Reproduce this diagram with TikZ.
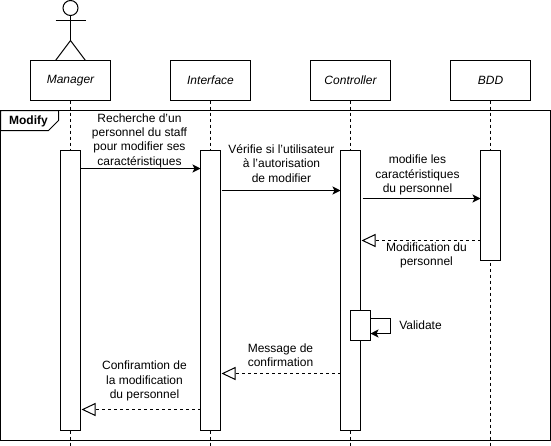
\documentclass[tikz,border=0pt]{standalone}
\usepackage{fontspec}
\setmainfont{Liberation Sans}
\usetikzlibrary{arrows.meta}
\tikzstyle{head}=[shape=rectangle,
	       draw=black,
	       fill=white,
	       outer sep=0pt,
	       minimum width=80pt,
	       minimum height=40pt,
	       font=\fontsize{12}{14.4}\selectfont\itshape]
\tikzstyle{act}=[shape=rectangle,
	       draw=black,
	       fill=white,
	       anchor=north,
	       inner sep=0pt,
	       outer sep=0pt,
	       minimum width=20pt]
\tikzstyle{txt}=[align=center,inner sep=0pt,font=\fontsize{12}{14.4}\selectfont]
\tikzstyle{life}=[draw=black,dash pattern=on 3pt off 3pt]
\tikzstyle{msg}=[-{Stealth[length=8pt,width=8pt,inset=2pt]}]
\tikzstyle{ret}=[dash pattern=on 3pt off 3pt,-{Triangle[open,length=14pt,width=13pt,fill=white]}]

\begin{document}
\begin{tikzpicture}[x=1pt,y=-1pt,shift={(0.5,0.5)},line width=1pt]
\useasboundingbox (-0.5,-0.5) rectangle (550.5,444.5);

% frame round the whole exchange
\node[draw=black,minimum width=550pt,minimum height=330pt,anchor=north west,inner sep=0pt,outer sep=0pt] (frame) at (0,110) {};
\coordinate (tabr) at (58,110);
\coordinate (tabc) at (58,120);
\coordinate (tabb) at (48,130);
\coordinate (tabl) at (0,130);
\draw[fill=white] (frame.north west) -- (tabr) -- (tabc) -- (tabb) -- (tabl) -- cycle;
\node[txt,font=\fontsize{12}{14.4}\selectfont\bfseries] (modify) at (28,120.5) {Modify};

% actor above the first box
\node[draw=black,circle,minimum size=15pt,inner sep=0pt,outer sep=0pt] (skull) at (70,7.5) {};
\coordinate (arml) at (55,20);
\coordinate (armr) at (85,20);
\coordinate (hip) at (70,40);
\coordinate (legl) at (55,60);
\coordinate (legr) at (85,60);
\draw (arml) -- (armr);
\draw (skull) -- (hip);
\draw (legl) -- (hip) -- (legr);

% boxes on top of each lifeline
\node[head] (manager) at (70,80) {Manager};
\node[head] (interface) at (210,80) {Interface};
\node[head] (controller) at (350,80) {Controller};
\node[head] (bdd) at (490,80) {BDD};

% bottom ends of the lifelines
\coordinate (endm) at (70,445);
\coordinate (endi) at (210,445);
\coordinate (endc) at (350,445);
\coordinate (endb) at (490,445);
\draw[life] (manager) -- (endm);
\draw[life] (interface) -- (endi);
\draw[life] (controller) -- (endc);
\draw[life] (bdd) -- (endb);

% activation bars
\node[act,minimum height=280pt] (actm) at (70,150) {};
\node[act,minimum height=280pt] (acti) at (210,150) {};
\node[act,minimum height=280pt] (actc) at (350,150) {};
\node[act,minimum height=110pt] (actb) at (490,150) {};
\node[act,minimum height=30pt] (valid) at (360,310) {};

% end points of the messages
\coordinate (m1a) at (80,168);
\coordinate (m1b) at (200,168);
\coordinate (m2a) at (221,190);
\coordinate (m2b) at (340,190);
\coordinate (m3a) at (362,198);
\coordinate (m3b) at (480,198);
\coordinate (m4a) at (480,240);
\coordinate (m4b) at (361,240);
\coordinate (m5a) at (340,373);
\coordinate (m5b) at (221,373);
\coordinate (m6a) at (200,409);
\coordinate (m6b) at (81,409);
\coordinate (s1) at (370,318);
\coordinate (s2) at (390,318);
\coordinate (s3) at (390,333);
\coordinate (s4) at (370,333);

\draw[msg] (m1a) -- (m1b);
\draw[msg] (m2a) -- (m2b);
\draw[msg] (m3a) -- (m3b);
\draw[ret] (m4a) -- (m4b);
\draw[ret] (m5a) -- (m5b);
\draw[ret] (m6a) -- (m6b);
\draw[msg] (s1) -- (s2) -- (s3) -- (s4);

% message labels
\node[txt] (recherche) at (139,140) {Recherche d'un\\personnel du staff\\pour modifier ses\\caractéristiques};
\node[txt] (verifie) at (281,163) {Vérifie si l'utilisateur\\à l'autorisation\\de modifier};
\node[txt] (modifie) at (417,174.5) {modifie les\\caractéristiques\\du personnel};
\node[txt] (modif) at (426,255) {Modification du\\personnel};
\node[txt] (validate) at (420,325) {Validate};
\node[txt] (message) at (280,355) {Message de\\confirmation};
\node[txt] (confir) at (144,380.5) {Confiramtion de\\la modification\\du personnel};

\end{tikzpicture}
\end{document}
